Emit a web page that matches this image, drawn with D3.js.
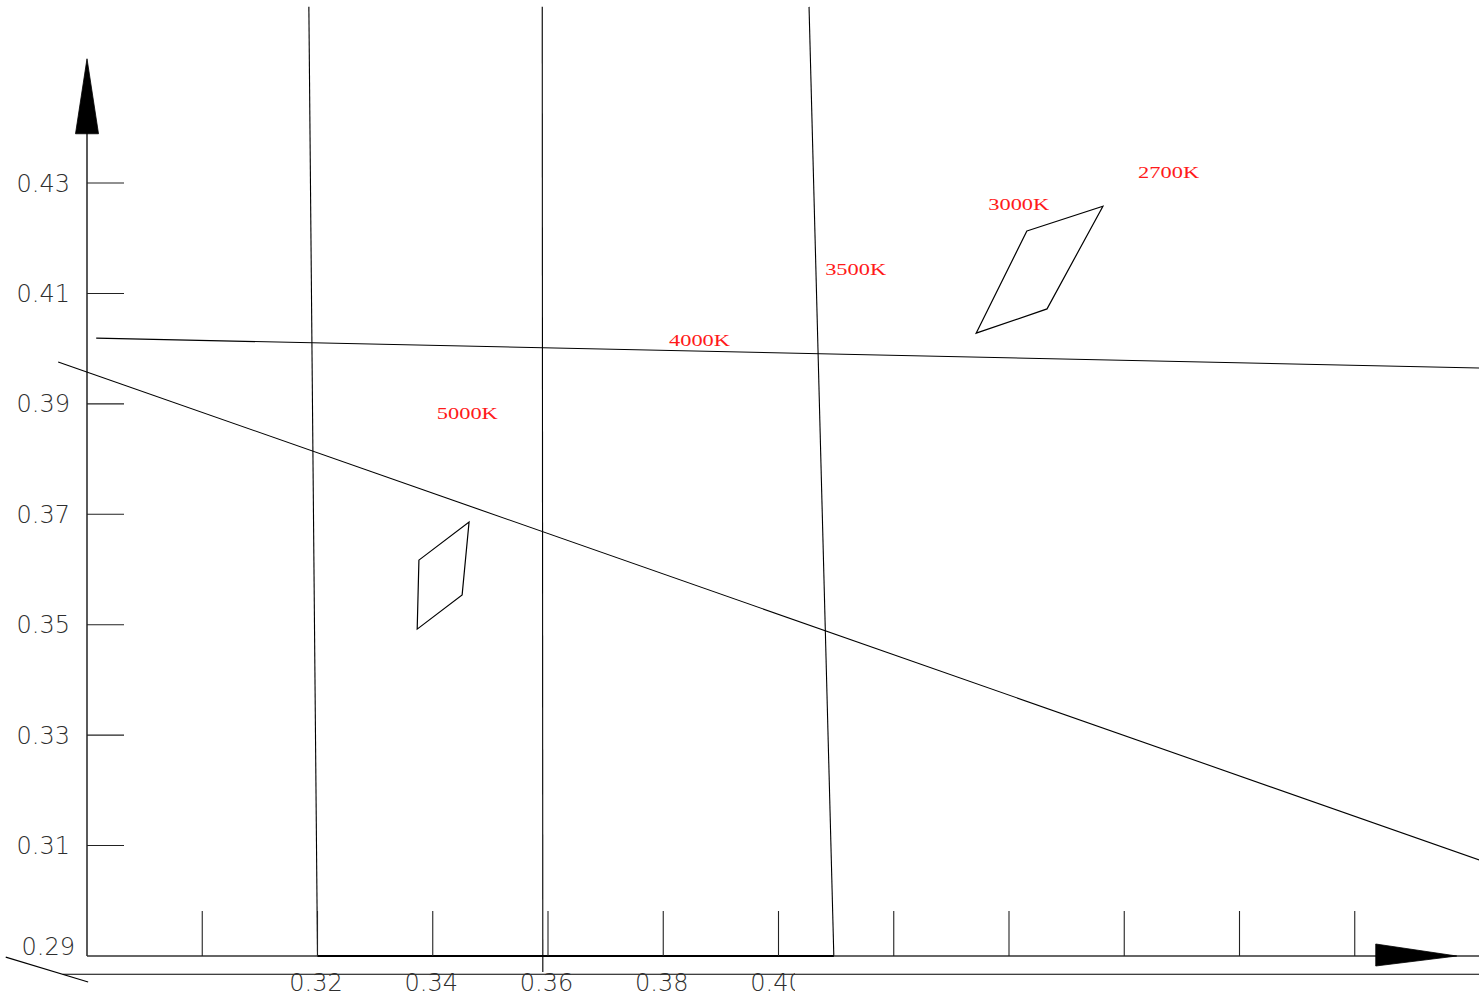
<!DOCTYPE html>
<html>
<head>
<meta charset="utf-8">
<script src="https://cdn.jsdelivr.net/npm/d3@7"></script>
<style>
  html, body { margin: 0; padding: 0; background: #fff; }
  svg { display: block; }
</style>
</head>
<body>
<div id="chart"></div>
<script>
// chromaticity chart, CAD style
var xTicks = [0.30, 0.32, 0.34, 0.36, 0.38, 0.40, 0.42, 0.44, 0.46, 0.48, 0.50];
var xTickLabels = ["0.32", "0.34", "0.36", "0.38", "0.40"];
var yTicks = [0.31, 0.33, 0.35, 0.37, 0.39, 0.41, 0.43];
var yTickLabels = ["0.29", "0.31", "0.33", "0.35", "0.37", "0.39", "0.41", "0.43"];

// isotherm / boundary lines: [x0, y0, x1, y1]
var cctLines = [
  [0.3185, 0.4619, 0.3200, 0.2900],
  [0.3590, 0.4619, 0.3591, 0.2871],
  [0.4053, 0.4619, 0.4096, 0.2900],
  [0.2816, 0.4019, 0.5216, 0.3965],
  [0.2750, 0.3976, 0.5216, 0.3074]
];
// construction lines under the x axis
var guideLines = [
  [0.2659, 0.2898, 0.2802, 0.2853],
  [0.2758, 0.2867, 0.5216, 0.2867]
];

// tolerance quadrangles
var quad5000 = [[0.3376, 0.3617], [0.3463, 0.3686], [0.3451, 0.3554], [0.3373, 0.3492]];
var quad3000 = [[0.4431, 0.4213], [0.4563, 0.4258], [0.4466, 0.4072], [0.4343, 0.4028]];

var cctNames = ["2700K", "3000K", "3500K", "4000K", "5000K"];
var cctX = [0.4624, 0.4364, 0.4081, 0.3810, 0.3407];
var cctY = [0.4309, 0.4251, 0.4134, 0.4005, 0.3873];

var W = 1479, H = 998;
var x = d3.scaleLinear().domain([0.28, 0.50]).range([87, 1354.75]);
var y = d3.scaleLinear().domain([0.29, 0.43]).range([956, 183]);

var svg = d3.select("#chart").append("svg")
  .attr("width", W).attr("height", H);

svg.append("defs").append("clipPath").attr("id", "lblclip")
  .append("rect").attr("x", 0).attr("y", 960).attr("width", 795).attr("height", 40);

var g = svg.append("g");

// lines
g.selectAll("line.cct").data(cctLines.concat(guideLines)).enter().append("line")
  .attr("class", "cct")
  .attr("x1", function(d) { return x(d[0]); })
  .attr("y1", function(d) { return y(d[1]); })
  .attr("x2", function(d) { return x(d[2]); })
  .attr("y2", function(d) { return y(d[3]); })
  .attr("stroke", "#000").attr("stroke-width", 1.1);

// axes
var yTop = 0.4525, xEnd = 0.5216, xTip = 0.5177;
g.append("line")
  .attr("x1", x(0.28)).attr("y1", y(0.29)).attr("x2", x(0.28)).attr("y2", y(yTop) + 70)
  .attr("stroke", "#000").attr("stroke-width", 1.3);
g.append("line")
  .attr("x1", x(0.28)).attr("y1", y(0.29)).attr("x2", x(xEnd)).attr("y2", y(0.29))
  .attr("stroke", "#333").attr("stroke-width", 1.6);
g.append("line")
  .attr("x1", x(0.32)).attr("y1", y(0.29)).attr("x2", x(0.4096)).attr("y2", y(0.29))
  .attr("stroke", "#000").attr("stroke-width", 2.2);

// arrow heads
var ax = x(0.28), ay = y(yTop);
g.append("path")
  .attr("d", "M" + ax + "," + ay + "L" + (ax - 11.5) + "," + (ay + 75) + "L" + (ax + 11.5) + "," + (ay + 75) + "Z")
  .attr("fill", "#000").attr("stroke", "#000").attr("stroke-width", 0.8);
var bx = x(xTip), by = y(0.29);
g.append("path")
  .attr("d", "M" + bx + "," + by + "L" + (bx - 81) + "," + (by - 12) + "L" + (bx - 81) + "," + (by + 10) + "Z")
  .attr("fill", "#000").attr("stroke", "#000").attr("stroke-width", 0.8);

// ticks
g.selectAll("line.xt").data(xTicks).enter().append("line")
  .attr("x1", function(d) { return x(d); }).attr("x2", function(d) { return x(d); })
  .attr("y1", y(0.29)).attr("y2", y(0.29) - 45)
  .attr("stroke", "#222").attr("stroke-width", 1.1);
g.selectAll("line.yt").data(yTicks).enter().append("line")
  .attr("x1", x(0.28)).attr("x2", x(0.28) + 37)
  .attr("y1", function(d) { return y(d); }).attr("y2", function(d) { return y(d); })
  .attr("stroke", "#222").attr("stroke-width", 1.1);

// tick labels
var lblFont = "'DejaVu Sans', sans-serif";
g.selectAll("text.yl").data(yTickLabels).enter().append("text")
  .attr("x", function(d) { return d === "0.29" ? 75 : 70; })
  .attr("y", function(d) { return d === "0.29" ? y(+d) - 8 : y(+d) + 1.5; })
  .attr("text-anchor", "end")
  .attr("dominant-baseline", "middle")
  .attr("font-family", lblFont).attr("font-size", 24).attr("font-weight", 200)
  .attr("fill", "#2e2e2e")
  .text(function(d) { return d; });

g.append("g").attr("clip-path", "url(#lblclip)")
  .selectAll("text").data(xTickLabels).enter().append("text")
  .attr("x", function(d) { return x(+d) - 1.5; })
  .attr("y", 984)
  .attr("text-anchor", "middle")
  .attr("dominant-baseline", "middle")
  .attr("font-family", lblFont).attr("font-size", 24).attr("font-weight", 200)
  .attr("fill", "#2e2e2e")
  .text(function(d) { return d; });

// quadrangles
var quadLine = d3.line().x(function(d) { return x(d[0]); }).y(function(d) { return y(d[1]); });
g.selectAll("path.quad").data([quad5000, quad3000]).enter().append("path")
  .attr("d", function(d) { return quadLine(d) + "Z"; })
  .attr("fill", "none").attr("stroke", "#000").attr("stroke-width", 1.2);

// CCT names
g.selectAll("text.cct").data(cctNames).enter().append("text")
  .attr("x", function(d, i) { return x(cctX[i]); })
  .attr("y", function(d, i) { return y(cctY[i]); })
  .attr("font-family", "'Liberation Serif', serif").attr("font-size", 16)
  .attr("textLength", 61).attr("lengthAdjust", "spacingAndGlyphs")
  .attr("fill", "#ff1a1a")
  .text(function(d) { return d; });
</script>
</body>
</html>
